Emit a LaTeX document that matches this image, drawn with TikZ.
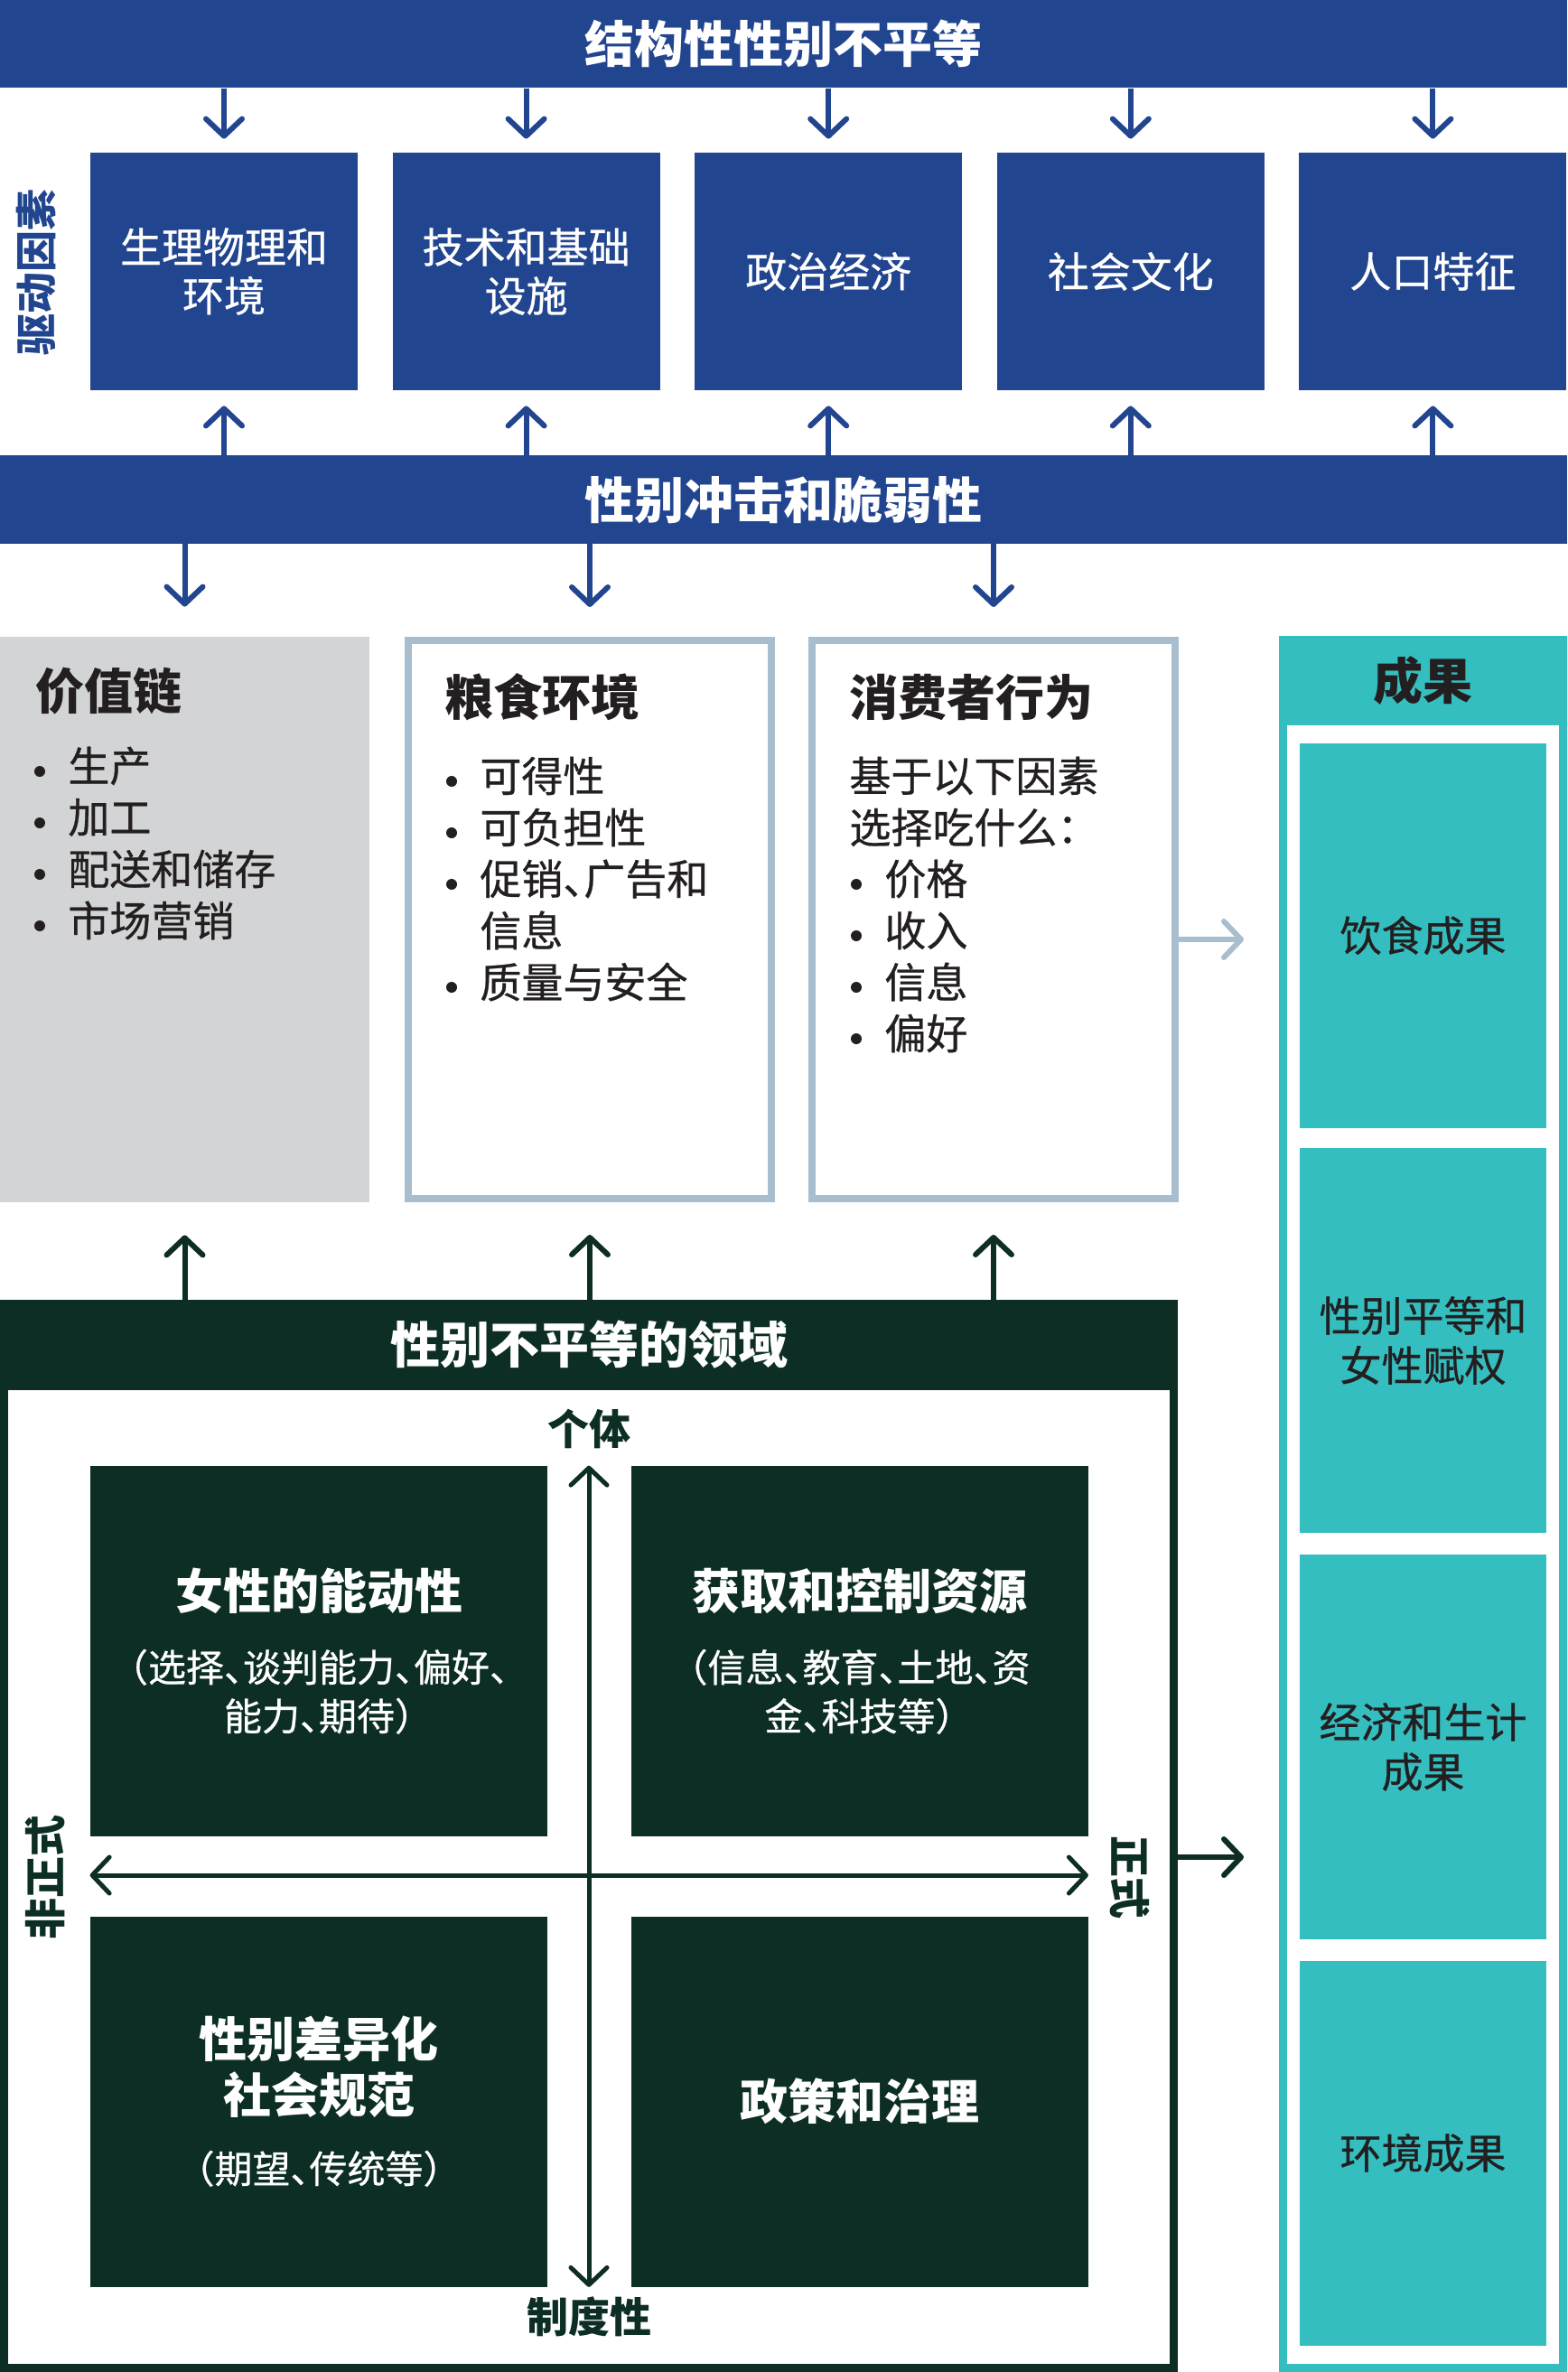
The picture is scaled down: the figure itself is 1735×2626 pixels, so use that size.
\documentclass[tikz,border=0pt]{standalone}
\usepackage{fontspec}
\setmainfont{Noto Sans CJK SC}[RawFeature=+halt,UprightFeatures={FakeBold=0.6}]
\usetikzlibrary{arrows.meta}
\definecolor{fsblue}{HTML}{22458F}
\definecolor{vcgray}{HTML}{D3D4D5}
\definecolor{frameblue}{HTML}{A8BECE}
\definecolor{fsteal}{HTML}{35BEC0}
\definecolor{dkgreen}{HTML}{0C2E25}
\definecolor{ink}{HTML}{231F20}
\newcommand\quadtitle{\fontsize{26.5pt}{31pt}\selectfont\bfseries}
\newcommand\quadsub{\fontsize{21pt}{27pt}\selectfont}
\begin{document}
\begin{tikzpicture}[x=0.5pt,y=-0.5pt,
  bar/.style={fill=fsblue,text=white,inner sep=0pt,minimum width=867.5pt,minimum height=49pt,font=\fontsize{27.5pt}{33pt}\selectfont\bfseries},
  drv/.style={fill=fsblue,text=white,inner sep=0pt,minimum width=148pt,minimum height=131.5pt,align=center,font=\fontsize{23pt}{27pt}\selectfont},
  arr/.style={line width=3pt,-{Straight Barb[length=9.5pt,width=20pt,round]}},
  dbl/.style={line width=2.5pt,{Straight Barb[length=9.5pt,width=20pt,round]}-{Straight Barb[length=9.5pt,width=20pt,round]}},
  frame/.style={draw=frameblue,line width=4pt,fill=white,inner sep=0pt,minimum width=201pt,minimum height=309pt},
  head/.style={anchor=west,inner sep=0pt,text=ink,font=\fontsize{27pt}{32pt}\selectfont\bfseries},
  item/.style={anchor=west,inner sep=0pt,text=ink,font=\fontsize{23pt}{28pt}\selectfont},
  quad/.style={fill=dkgreen,text=white,inner sep=0pt,minimum width=253pt,minimum height=205pt,align=center,font=\quadsub},
  res/.style={fill=fsteal,text=ink,inner sep=0pt,minimum width=136.5pt,minimum height=213pt,align=center,font=\fontsize{23pt}{27.5pt}\selectfont},
  axlab/.style={text=dkgreen,inner sep=0pt,font=\fontsize{23pt}{27pt}\selectfont\bfseries}]
\useasboundingbox (0,0) rectangle (1735,2626);

% drivers
\node[bar] (top) at (867.5,48.5) {结构性性别不平等};
\node[bar] (shock) at (867.5,553) {性别冲击和脆弱性};
\node[rotate=90,text=fsblue,inner sep=0pt,font=\fontsize{23pt}{27pt}\selectfont\bfseries] (drvlab) at (40,302) {驱动因素};
\foreach \t [count=\i] in {{生理物理和\\环境},{技术和基础\\设施},政治经济,社会文化,人口特征}{
  \node[drv] (d\i) at ({248+334.6*(\i-1)},300.5) {\t};
  \draw[arr,fsblue,shorten >=7.5pt] (d\i.north |- top.south) -- (d\i.north);
  \draw[arr,fsblue,shorten >=8.5pt] (d\i.south |- shock.north) -- (d\i.south);
}

% food system
\node[fill=vcgray,inner sep=0pt,minimum width=204.5pt,minimum height=313pt] (vc) at (204.5,1018) {};
\node[frame] (fe) at (653,1018) {};
\node[frame] (cb) at (1100,1018) {};
\foreach \b in {vc,fe,cb}
  \draw[arr,fsblue,shorten >=16.5pt] (\b.north |- shock.south) -- (\b.north);

\node[head] (vcT) at (39,765) {价值链};
\node[head] (feT) at (492,772) {粮食环境};
\node[head] (cbT) at (940,772) {消费者行为};
\foreach \t [count=\k] in {生产,加工,配送和储存,市场营销}{
  \fill[ink] (44,{854+57*(\k-1)}) circle (3pt);
  \node[item] (vc\k) at (75,{848+57*(\k-1)}) {\t};
}
\foreach \t/\b [count=\k] in {可得性/1,可负担性/1,促销、广告和/1,信息/0,质量与安全/1}{
  \ifnum\b=1 \fill[ink] (500,{865+57*(\k-1)}) circle (3pt); \fi
  \node[item] (fe\k) at (531,{859+57*(\k-1)}) {\t};
}
\node[item] (cb1) at (940,859) {基于以下因素};
\node[item] (cb2) at (940,916) {选择吃什么：};
\foreach \t [count=\k from 3] in {价格,收入,信息,偏好}{
  \fill[ink] (948,{865+57*(\k-1)}) circle (3pt);
  \node[item] (cb\k) at (979,{859+57*(\k-1)}) {\t};
}

% outcomes
\node[draw=fsteal,line width=4.5pt,fill=white,inner sep=0pt,minimum width=155pt,minimum height=956.5pt] (out) at (1575.5,1665) {};
\node[fill=fsteal,text=ink,inner sep=0pt,minimum width=159.5pt,minimum height=49.5pt,font=\fontsize{27.5pt}{33pt}\selectfont\bfseries] (outT) at (1575.5,753.5) {成果};
\foreach \t/\y [count=\i] in {饮食成果/1035.5,{性别平等和\\女性赋权}/1484,{经济和生计\\成果}/1934,环境成果/2383.5}
  \node[res] (o\i) at (1575.5,\y) {\t};
\coordinate (cbA) at ([yshift=-11pt]cb.east);
\draw[arr,frameblue,shorten >=19.5pt] (cbA) -- (cbA -| out.west);

% domains of gender inequality
\node[draw=dkgreen,line width=4.5pt,inner sep=0pt,minimum width=647.5pt,minimum height=589pt] (dom) at (652,2032.5) {};
\node[fill=dkgreen,text=white,inner sep=0pt,minimum width=652pt,minimum height=50pt,font=\fontsize{27.5pt}{33pt}\selectfont\bfseries] (domT) at (652,1489) {性别不平等的领域};
\foreach \b in {vc,fe,cb}
  \draw[arr,dkgreen,shorten >=18pt] (\b.south |- domT.north) -- (\b.south);
\node[quad] (tl) at (353,1828) {{\quadtitle 女性的能动性}\\[13pt]（选择、谈判能力、偏好、\\能力、期待）};
\node[quad] (tr) at (951.5,1828) {{\quadtitle 获取和控制资源}\\[13pt]（信息、教育、土地、资\\金、科技等）};
\node[quad] (bl) at (353,2326.5) {{\quadtitle 性别差异化}\\[4pt]{\quadtitle 社会规范}\\[11.5pt]（期望、传统等）};
\node[quad] (br) at (951.5,2326.5) {{\quadtitle 政策和治理}};
\coordinate (ctr) at (652,2076);
\draw[dbl,dkgreen] (ctr |- tl.north) -- (ctr |- bl.south);
\draw[dbl,dkgreen] (ctr -| tl.west) -- (ctr -| tr.east);
\node[axlab] (ind) at (652,1582) {个体};
\node[axlab] (inst) at (652,2565) {制度性};
\node[axlab,rotate=90] (inf) at (50,2078) {非正式};
\node[axlab,rotate=-90] (form) at (1251,2078) {正式};
\coordinate (domA) at ([yshift=-11.75pt]dom.east);
\draw[arr,dkgreen,shorten >=19.5pt] (domA) -- (domA -| out.west);
\end{tikzpicture}
\end{document}
